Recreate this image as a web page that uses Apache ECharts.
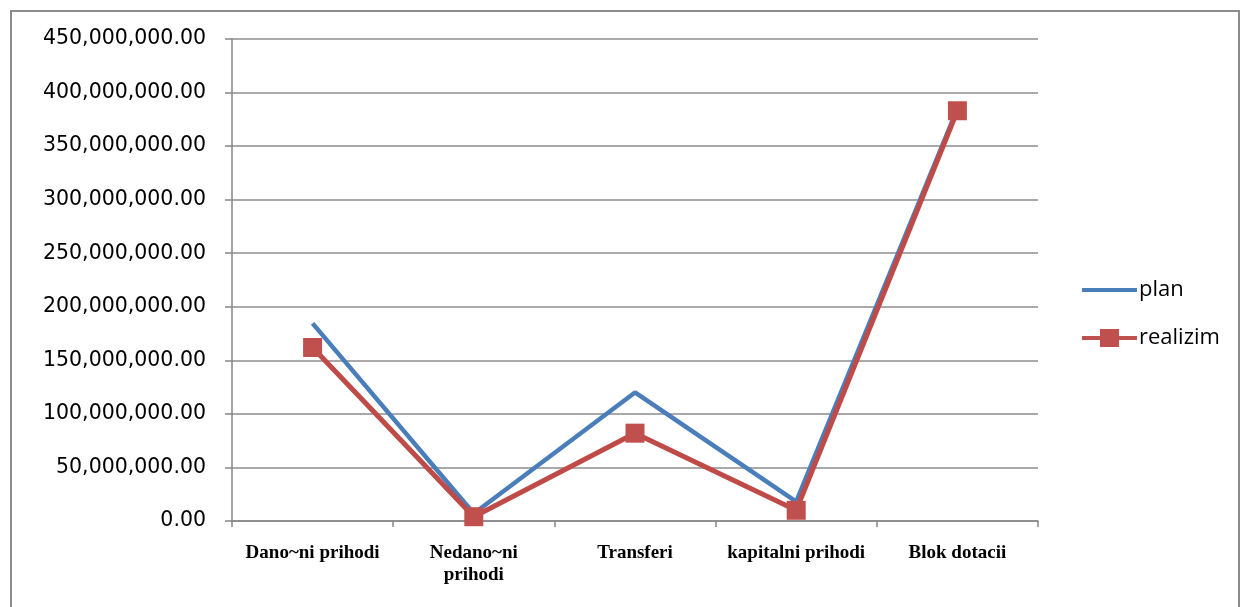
<!DOCTYPE html>
<html>
<head>
<meta charset="utf-8">
<script src="https://cdn.jsdelivr.net/npm/echarts@6/dist/echarts.min.js"></script>
<style>
html,body{margin:0;padding:0;background:#fff;}
#frame{position:absolute;left:10px;top:10px;width:1230px;height:620px;border:2px solid #8c8c8c;box-sizing:border-box;}
#chart{position:absolute;left:0;top:0;width:1247px;height:607px;}
</style>
</head>
<body>
<div id="frame"></div>
<div id="chart"></div>
<script>
const categories = ['Dano~ni prihodi', 'Nedano~ni\nprihodi', 'Transferi', 'kapitalni prihodi', 'Blok dotacii'];
const planValues = [184500000, 7000000, 120000000, 18000000, 385000000];
const realizimValues = [162000000, 4000000, 82000000, 10000000, 383000000];
const yTicks = { min: 0, max: 450000000, interval: 50000000 };

const chart = echarts.init(document.getElementById('chart'));
chart.setOption({
  animation: false,
  grid: { left: 232, right: 209, top: 39, bottom: 86 },
  legend: {
    orient: 'vertical',
    left: 1077,
    top: 274,
    itemGap: 26,
    itemWidth: 55,
    itemHeight: 20,
    textStyle: { fontFamily: 'Open Sans', fontSize: 22, color: '#000', padding: [0, 0, 0, -3] },
    data: [
      { name: 'plan', icon: 'path://M0,8 L55,8 L55,12 L0,12 Z' },
      { name: 'realizim', icon: 'path://M0,8 L55,8 L55,12 L0,12 Z M18,1 L37,1 L37,19 L18,19 Z' }
    ]
  },
  xAxis: {
    type: 'category',
    data: categories,
    boundaryGap: true,
    axisLine: { lineStyle: { color: '#868686', width: 1.5 } },
    axisTick: { show: true, length: 6, lineStyle: { color: '#868686', width: 1.5 } },
    axisLabel: { margin: 21, color: '#000', fontFamily: 'Liberation Serif', fontSize: 19, fontWeight: 'bold', lineHeight: 22, interval: 0 }
  },
  yAxis: {
    type: 'value',
    min: yTicks.min, max: yTicks.max, interval: yTicks.interval,
    axisLine: { show: true, lineStyle: { color: '#868686', width: 1.5 } },
    axisTick: { show: true, length: 7, lineStyle: { color: '#868686', width: 1.5 } },
    splitLine: { lineStyle: { color: '#8c8c8c', width: 1.5 } },
    axisLabel: {
      margin: 26, color: '#000', fontFamily: 'DejaVu Sans', fontSize: 20.5,
      formatter: v => v.toLocaleString('en-US', { minimumFractionDigits: 2, maximumFractionDigits: 2 })
    }
  },
  series: [
    {
      name: 'plan', type: 'line', data: planValues,
      showSymbol: false, symbol: 'none',
      lineStyle: { color: '#4a7ebb', width: 4.5 },
      itemStyle: { color: '#4a7ebb' }
    },
    {
      name: 'realizim', type: 'line', data: realizimValues,
      symbol: 'rect', symbolSize: 19,
      lineStyle: { color: '#be4b48', width: 5 },
      itemStyle: { color: '#c0504d' }
    }
  ]
});
</script>
</body>
</html>
